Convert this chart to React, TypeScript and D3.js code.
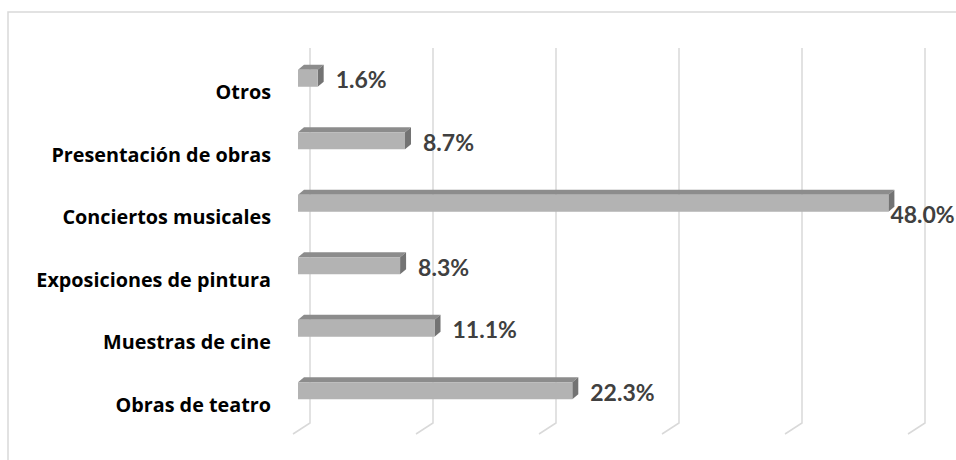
import React from "react";
import * as d3 from "d3";

const categories = [
  "Otros",
  "Presentación de obras",
  "Conciertos musicales",
  "Exposiciones de pintura",
  "Muestras de cine",
  "Obras de teatro",
];
const values = [1.6, 8.7, 48.0, 8.3, 11.1, 22.3];
const ticks = [0, 10, 20, 30, 40, 50];

const W = 956;
const H = 460;

export default function App() {
  // front-face scale and back-wall scale (3D offset)
  const xFront = d3.scaleLinear().domain([0, 50]).range([298, 913]);
  const xBack = d3.scaleLinear().domain([0, 50]).range([310, 925]);
  const y = d3.scaleBand<string>().domain(categories).range([48, 423]);
  const wallBottom = 423;
  const floorDx = -17;
  const floorDy = 11;
  const depthX = 6;
  const depthY = -5;
  const barH = 17;
  const valFont = "Lato, 'Open Sans', sans-serif";
  const catFont = "'Open Sans', Lato, sans-serif";

  return (
    <svg width={W} height={H} style={{ display: "block", position: "absolute", left: 0, top: 0 }}>
      <rect x={0} y={0} width={W} height={H} fill="#ffffff" />
      {/* chart area border */}
      <rect x={8} y={12} width={W + 10} height={H} fill="none" stroke="#d9d9d9" strokeWidth={1.5} />
      {/* gridlines */}
      {ticks.map((t) => (
        <path
          key={t}
          d={`M${xBack(t)},48 L${xBack(t)},${wallBottom} L${xBack(t) + floorDx},${wallBottom + floorDy}`}
          fill="none"
          stroke="#d9d9d9"
          strokeWidth={1.5}
        />
      ))}
      {/* bars */}
      {categories.map((c, i) => {
        const v = values[i];
        const cy = (y(c) as number) + y.bandwidth() / 2 - 1;
        const x0 = xFront(0);
        const x1 = xFront(v);
        const top = cy - barH / 2;
        const bot = cy + barH / 2;
        return (
          <g key={c}>
            <path
              d={`M${x0},${top} L${x1},${top} L${x1 + depthX},${top + depthY} L${x0 + depthX},${top + depthY} Z`}
              fill="#8c8c8c"
            />
            <path
              d={`M${x1},${top} L${x1 + depthX},${top + depthY} L${x1 + depthX},${bot + depthY} L${x1},${bot} Z`}
              fill="#737373"
            />
            <rect x={x0} y={top} width={x1 - x0} height={barH} fill="#b3b3b3" />
          </g>
        );
      })}
      {/* category labels */}
      {categories.map((c) => {
        const cy = (y(c) as number) + y.bandwidth() / 2;
        return (
          <text
            key={c}
            x={271}
            y={cy + 20}
            textAnchor="end"
            fontFamily={catFont}
            fontWeight="bold"
            fontSize={19.8}
            fill="#000000"
          >
            {c}
          </text>
        );
      })}
      {/* value labels */}
      {categories.map((c, i) => {
        const v = values[i];
        const cy = (y(c) as number) + y.bandwidth() / 2;
        const end = xFront(v) + depthX;
        const label = v.toFixed(1) + "%";
        const overflow = end + 13 + 65 > xBack(50);
        const lx = overflow ? xFront(v) + 2 : end + 12;
        const ly = overflow ? cy + 19 : cy + 9;
        return (
          <text
            key={c}
            x={lx}
            y={ly}
            fontFamily={valFont}
            fontWeight="bold"
            fontSize={23}
            fill="#404040"
          >
            {label}
          </text>
        );
      })}
    </svg>
  );
}
